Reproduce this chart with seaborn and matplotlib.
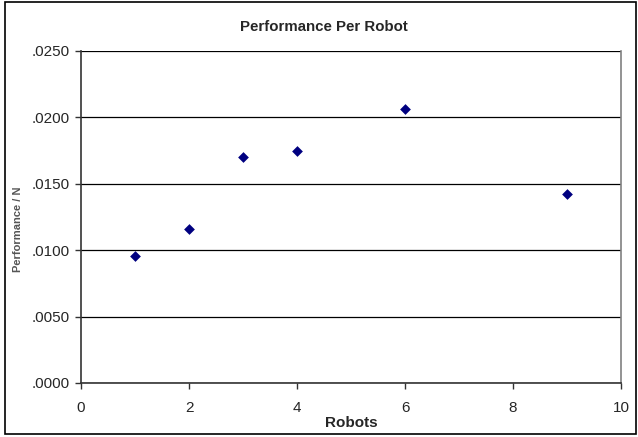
import matplotlib
matplotlib.use('Agg')
import matplotlib.pyplot as plt
import matplotlib.patches as patches
import seaborn as sns
import pandas as pd
from matplotlib.ticker import FuncFormatter

# Veriler
robots = [1, 2, 3, 4, 6, 9]
performance = [0.0096, 0.0116, 0.0170, 0.0175, 0.0206, 0.0142]
df = pd.DataFrame({'Robots': robots, 'Performance': performance})

sns.set_style('white')
plt.rcParams['font.family'] = ['Liberation Sans', 'DejaVu Sans']

fig = plt.figure(figsize=(6.38, 4.37), dpi=100)
ax = fig.add_axes([81 / 638, 1 - 383 / 437, 540 / 638, 332 / 437])

sns.scatterplot(data=df, x='Robots', y='Performance', ax=ax, marker='D',
                color='#000080', s=30, edgecolor='#000080', linewidth=0, zorder=3)

ax.set_xlim(0, 10)
ax.set_ylim(0, 0.025)
ax.set_xticks([0, 2, 4, 6, 8, 10])
ax.set_yticks([0, 0.005, 0.01, 0.015, 0.02, 0.025])
ax.yaxis.set_major_formatter(FuncFormatter(lambda v, p: ('%.4f' % v)[1:]))
ax.yaxis.grid(True, color='black', linewidth=0.9)
ax.xaxis.grid(False)
ax.tick_params(axis='both', direction='out', length=4, width=1, color='#333333',
               labelsize=11, pad=4, left=True, bottom=True)
ax.tick_params(axis='x', pad=9)

for s in ['left', 'bottom']:
    ax.spines[s].set_color('#333333')
    ax.spines[s].set_linewidth(1.2)
ax.spines['right'].set_color('#808080')
ax.spines['right'].set_linewidth(1.2)
ax.spines['top'].set_visible(False)

ax.set_xlabel('')
ax.set_ylabel('')
fig.text(351 / 638, 1 - 423 / 437, 'Robots', ha='center', va='center',
         fontsize=11, fontweight='bold')
fig.text(18 / 638, 1 - 229 / 437, 'Performance / N', ha='center', va='center',
         rotation=90, fontsize=8, fontweight='bold', color='#555555')
fig.text(324 / 638, 1 - 27 / 437, 'Performance Per Robot', ha='center', va='center',
         fontsize=10.8, fontweight='bold')

# Dış çerçeve
border = patches.Rectangle((5 / 638, 3 / 437), 631 / 638, 432 / 437,
                           transform=fig.transFigure, fill=False,
                           edgecolor='black', linewidth=1.2)
fig.patches.append(border)

plt.savefig('out.png', dpi=100)
